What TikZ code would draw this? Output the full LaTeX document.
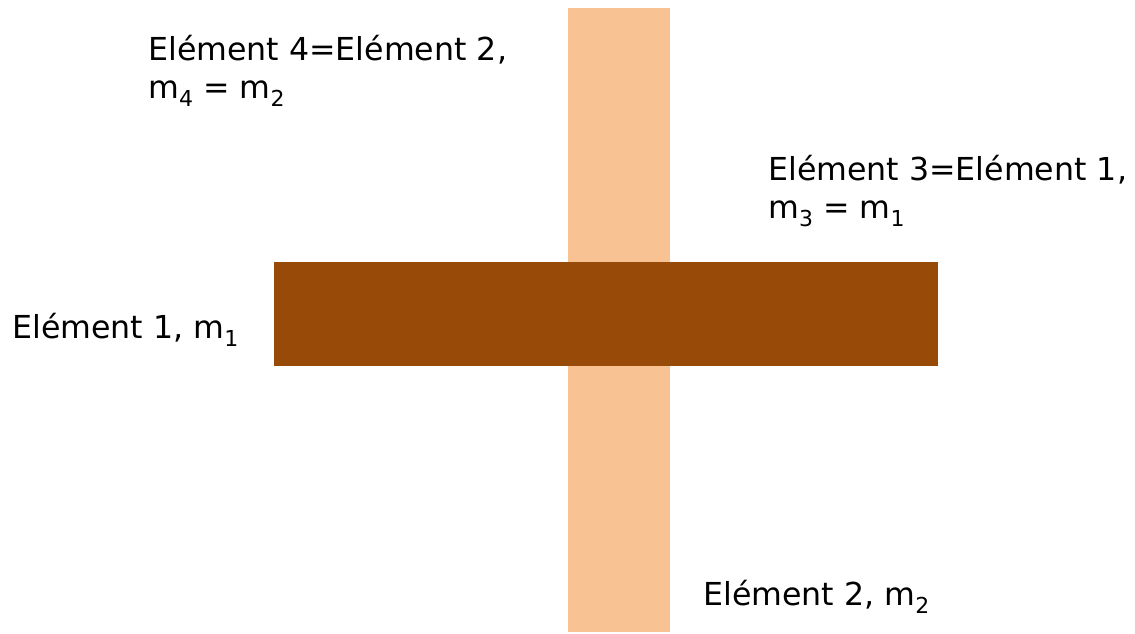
\documentclass[tikz,border=0pt]{standalone}
\usepackage{fontspec}
\setmainfont{DejaVu Sans}
\usepackage{xcolor}
\definecolor{barbrown}{RGB}{152,74,8}
\definecolor{barpeach}{RGB}{249,194,147}
\usetikzlibrary{positioning}
\newcommand{\msub}[1]{\raisebox{-0.5ex}{\fontsize{12.5pt}{12.5pt}\selectfont #1}}
\tikzset{
  barshape/.style={rectangle, draw=none, inner sep=0pt, outer sep=0pt},
  peachbar/.style={barshape, fill=barpeach,
                   minimum width=2.04cm, minimum height=12.48cm},
  brownbar/.style={barshape, fill=barbrown,
                   minimum width=13.28cm, minimum height=2.08cm},
  elemlabel/.style={font=\fontsize{18pt}{21.6pt}\selectfont,
                    inner sep=0pt, anchor=base west, align=left},
}

\begin{document}
\begin{tikzpicture}[x=0.02cm, y=-0.02cm]
  \useasboundingbox (0,0) rectangle (1135,633);

  % the two bars
  \node[peachbar] (elem2) at (619,320) {};
  \node[brownbar] (elem1) at (606,314) {};

  % labels (base = last line)
  \node[elemlabel] (lab1) at (12,338) {Elément 1, m\msub{1}};
  \node[elemlabel] (lab2) at (703,605) {Elément 2, m\msub{2}};
  \node[elemlabel] (lab3) at (768,218)
    {Elément 3=Elément 1,\\m\msub{3} = m\msub{1}};
  \node[elemlabel] (lab4) at (148,98)
    {Elément 4=Elément 2,\\m\msub{4} = m\msub{2}};
\end{tikzpicture}
\end{document}
